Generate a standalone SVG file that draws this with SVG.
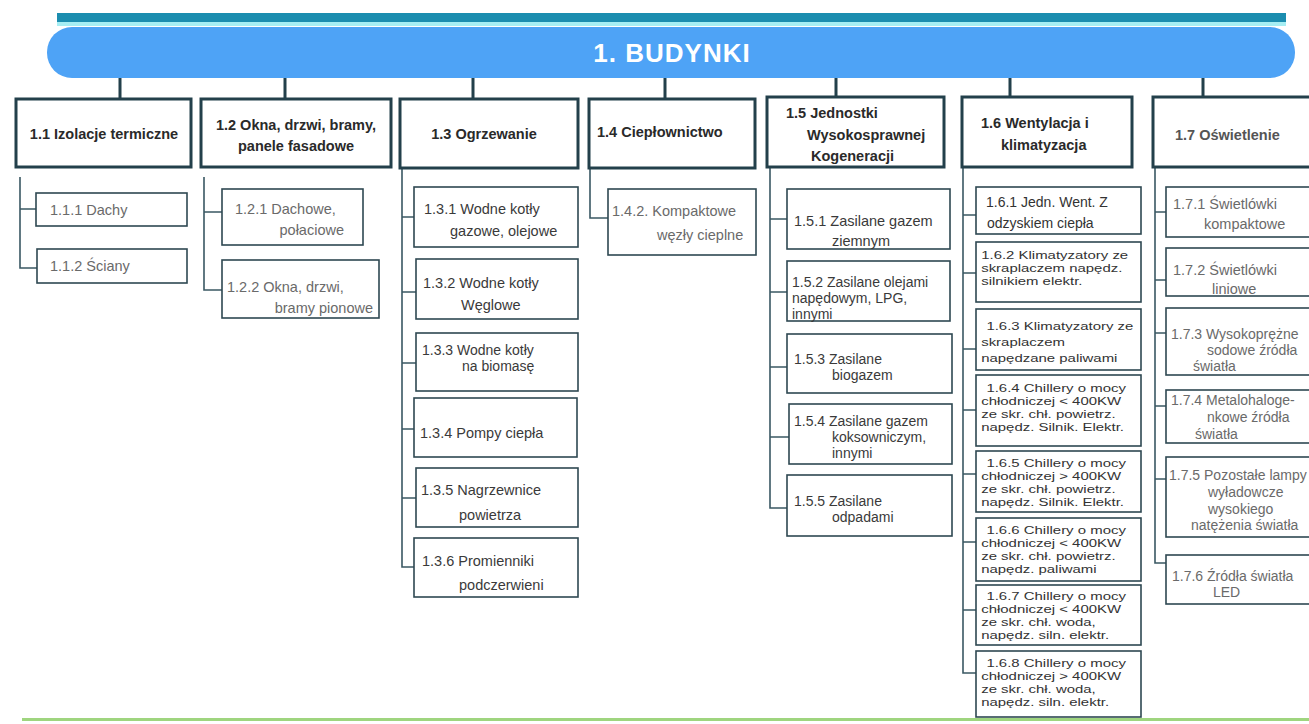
<svg xmlns="http://www.w3.org/2000/svg" width="1309" height="724" viewBox="0 0 1309 724">
<style>
.bg{fill:#ffffff}
.b1{fill:#ffffff;stroke:#23404b;stroke-width:3}
.b2{fill:#ffffff;stroke:#2e4852;stroke-width:1.6}
.c1{stroke:#23404b;stroke-width:3;fill:none}
.c2{stroke:#3a5863;stroke-width:1.6;fill:none}
text{font-family:"Liberation Sans",Arial,sans-serif}
.t1{font-size:14.5px;font-weight:bold;fill:#2a2a2a}
.tg{font-size:14.5px;fill:#6a6a6a}
.td{font-size:14.5px;fill:#3a3a3a}
.s{font-size:14px}
.tc{font-size:11.5px;fill:#333333}
</style>
<rect class="bg" x="0" y="0" width="1309" height="724"/>
<g id="top">
<rect x="57" y="13" width="1229" height="9" fill="#1b8daf"/>
<rect x="57" y="22" width="1229" height="4" fill="#a6eef3"/>
<rect x="47" y="27" width="1248" height="51" rx="25" fill="#4ea3f6"/>
<text x="672" y="62" text-anchor="middle" style="font-size:26px;font-weight:bold;letter-spacing:1px;fill:#ffffff">1. BUDYNKI</text>
</g>
<g id="connectors">
<path class="c1" d="M120 78V99M285 78V99M473 78V99M665 78V99M836 78V97M1010 78V97M1203 78V97"/>
<path class="c2" d="M20 177V268H37M20 209H36"/>
<path class="c2" d="M204 177V290H222M204 212H222"/>
<path class="c2" d="M402 168V567H414M402 217H414M402 292H416M402 363H416M402 429H414M402 498H416"/>
<path class="c2" d="M590 168V218H608"/>
<path class="c2" d="M770 167V508H787M770 219H787M770 292H787M770 367H787M770 437H789"/>
<path class="c2" d="M963 167V673H976M963 215H976M963 273H976M963 349H976M963 410H976M963 474H976M963 542H976M963 610H976"/>
<path class="c2" d="M1155 167V563H1166M1155 212H1166M1155 280H1166M1155 333H1166M1155 406H1166M1155 479H1166"/>
</g>
<g id="n1-1">
<rect class="b1" x="16" y="99" width="175" height="68"/>
<text class="t1" x="104" y="139" text-anchor="middle">1.1 Izolacje termiczne</text>
</g>
<g id="n1-1-1">
<rect class="b2" x="36" y="193" width="151" height="33"/>
<text class="tg" x="50" y="215">1.1.1 Dachy</text>
</g>
<g id="n1-1-2">
<rect class="b2" x="37" y="249" width="150" height="34"/>
<text class="tg" x="50" y="271">1.1.2 Ściany</text>
</g>
<g id="n1-2">
<rect class="b1" x="201" y="99" width="190" height="68"/>
<text class="t1" x="296" y="130" text-anchor="middle">1.2 Okna, drzwi, bramy,</text>
<text class="t1" x="296" y="151" text-anchor="middle">panele fasadowe</text>
</g>
<g id="n1-2-1">
<rect class="b2" x="222" y="189" width="141" height="56"/>
<text class="tg" x="235" y="214">1.2.1 Dachowe,</text>
<text class="tg" x="344" y="235" text-anchor="end">połaciowe</text>
</g>
<g id="n1-2-2">
<rect class="b2" x="222" y="260" width="157" height="58"/>
<text class="tg" x="227" y="292">1.2.2 Okna, drzwi,</text>
<text class="tg" x="373" y="313" text-anchor="end">bramy pionowe</text>
</g>
<g id="n1-3">
<rect class="b1" x="400" y="99" width="178" height="69"/>
<text class="t1" x="484" y="139" text-anchor="middle">1.3 Ogrzewanie</text>
</g>
<g id="n1-3-1">
<rect class="b2" x="414" y="187" width="164" height="60"/>
<text class="td" x="424" y="214">1.3.1 Wodne kotły</text>
<text class="td" x="450" y="236">gazowe, olejowe</text>
</g>
<g id="n1-3-2">
<rect class="b2" x="416" y="259" width="162" height="60"/>
<text class="td" x="423" y="288">1.3.2 Wodne kotły</text>
<text class="td" x="461" y="310">Węglowe</text>
</g>
<g id="n1-3-3">
<rect class="b2" x="416" y="333" width="162" height="58"/>
<text class="td s" x="422" y="355">1.3.3 Wodne kotły</text>
<text class="td s" x="462" y="371">na biomasę</text>
</g>
<g id="n1-3-4">
<rect class="b2" x="414" y="398" width="163" height="59"/>
<text class="td" x="420" y="438">1.3.4 Pompy ciepła</text>
</g>
<g id="n1-3-5">
<rect class="b2" x="416" y="468" width="162" height="59"/>
<text class="td" x="421" y="495">1.3.5 Nagrzewnice</text>
<text class="td" x="459" y="520">powietrza</text>
</g>
<g id="n1-3-6">
<rect class="b2" x="414" y="538" width="164" height="59"/>
<text class="td" x="422" y="566">1.3.6 Promienniki</text>
<text class="td" x="459" y="590">podczerwieni</text>
</g>
<g id="n1-4">
<rect class="b1" x="589" y="99" width="166" height="69"/>
<text class="t1" x="597" y="137">1.4 Ciepłownictwo</text>
</g>
<g id="n1-4-2">
<rect class="b2" x="608" y="189" width="148" height="66"/>
<text class="tg" x="612" y="216">1.4.2. Kompaktowe</text>
<text class="tg" x="657" y="240">węzły cieplne</text>
</g>
<g id="n1-5">
<rect class="b1" x="767" y="97" width="177" height="70"/>
<text class="t1" x="786" y="118">1.5 Jednostki</text>
<text class="t1" x="807" y="140">Wysokosprawnej</text>
<text class="t1" x="811" y="161">Kogeneracji</text>
</g>
<g id="n1-5-1">
<rect class="b2" x="787" y="189" width="163" height="60"/>
<text class="td" x="794" y="226">1.5.1 Zasilane gazem</text>
<text class="td" x="832" y="246">ziemnym</text>
</g>
<g id="n1-5-2">
<rect class="b2" x="787" y="261" width="163" height="60"/>
<text class="td s" x="792" y="287">1.5.2 Zasilane olejami</text>
<text class="td s" x="792" y="303">napędowym, LPG,</text>
<text class="td s" x="792" y="319">innymi</text>
</g>
<g id="n1-5-3">
<rect class="b2" x="787" y="334" width="165" height="59"/>
<text class="td s" x="794" y="364">1.5.3 Zasilane</text>
<text class="td s" x="832" y="380">biogazem</text>
</g>
<g id="n1-5-4">
<rect class="b2" x="789" y="404" width="163" height="60"/>
<text class="td s" x="794" y="426">1.5.4 Zasilane gazem</text>
<text class="td s" x="832" y="442">koksowniczym,</text>
<text class="td s" x="832" y="458">innymi</text>
</g>
<g id="n1-5-5">
<rect class="b2" x="787" y="475" width="165" height="61"/>
<text class="td s" x="794" y="506">1.5.5 Zasilane</text>
<text class="td s" x="832" y="522">odpadami</text>
</g>
<g id="n1-6">
<rect class="b1" x="962" y="97" width="170" height="70"/>
<text class="t1" x="981" y="128">1.6 Wentylacja i</text>
<text class="t1" x="1001" y="150">klimatyzacja</text>
</g>
<g id="n1-6-1">
<rect class="b2" x="976" y="187" width="165" height="47"/>
<text class="td s" x="986" y="207" style="fill:#333333">1.6.1 Jedn. Went. Z</text>
<text class="td s" x="987" y="228" style="fill:#333333">odzyskiem ciepła</text>
</g>
<g id="n1-6-2">
<rect class="b2" x="976" y="242" width="165" height="60"/>
<g transform="translate(976 0) scale(1.3 1) translate(-976 0)">
<text class="tc" x="980" y="259">1.6.2 Klimatyzatory ze</text>
<text class="tc" x="980" y="272">skraplaczem napędz.</text>
<text class="tc" x="980" y="285">silnikiem elektr.</text>
</g>
</g>
<g id="n1-6-3">
<rect class="b2" x="976" y="309" width="165" height="61"/>
<g transform="translate(976 0) scale(1.3 1) translate(-976 0)">
<text class="tc" x="984" y="330">1.6.3 Klimatyzatory ze</text>
<text class="tc" x="980" y="346">skraplaczem</text>
<text class="tc" x="980" y="362">napędzane paliwami</text>
</g>
</g>
<g id="n1-6-4">
<rect class="b2" x="976" y="375" width="165" height="71"/>
<g transform="translate(976 0) scale(1.3 1) translate(-976 0)">
<text class="tc" x="984" y="392">1.6.4 Chillery o mocy</text>
<text class="tc" x="980" y="405">chłodniczej &lt; 400KW</text>
<text class="tc" x="980" y="418">ze skr. chł. powietrz.</text>
<text class="tc" x="980" y="431">napędz. Silnik. Elektr.</text>
</g>
</g>
<g id="n1-6-5">
<rect class="b2" x="976" y="451" width="165" height="61"/>
<g transform="translate(976 0) scale(1.3 1) translate(-976 0)">
<text class="tc" x="984" y="467">1.6.5 Chillery o mocy</text>
<text class="tc" x="980" y="480">chłodniczej &gt; 400KW</text>
<text class="tc" x="980" y="493">ze skr. chł. powietrz.</text>
<text class="tc" x="980" y="506">napędz. Silnik. Elektr.</text>
</g>
</g>
<g id="n1-6-6">
<rect class="b2" x="976" y="518" width="165" height="63"/>
<g transform="translate(976 0) scale(1.3 1) translate(-976 0)">
<text class="tc" x="984" y="534">1.6.6 Chillery o mocy</text>
<text class="tc" x="980" y="547">chłodniczej &lt; 400KW</text>
<text class="tc" x="980" y="560">ze skr. chł. powietrz.</text>
<text class="tc" x="980" y="573">napędz. paliwami</text>
</g>
</g>
<g id="n1-6-7">
<rect class="b2" x="976" y="585" width="165" height="60"/>
<g transform="translate(976 0) scale(1.3 1) translate(-976 0)">
<text class="tc" x="984" y="600">1.6.7 Chillery o mocy</text>
<text class="tc" x="980" y="613">chłodniczej &lt; 400KW</text>
<text class="tc" x="980" y="626">ze skr. chł. woda,</text>
<text class="tc" x="980" y="639">napędz. siln. elektr.</text>
</g>
</g>
<g id="n1-6-8">
<rect class="b2" x="976" y="651" width="165" height="66"/>
<g transform="translate(976 0) scale(1.3 1) translate(-976 0)">
<text class="tc" x="984" y="667">1.6.8 Chillery o mocy</text>
<text class="tc" x="980" y="680">chłodniczej &gt; 400KW</text>
<text class="tc" x="980" y="693">ze skr. chł. woda,</text>
<text class="tc" x="980" y="706">napędz. siln. elektr.</text>
</g>
</g>
<g id="n1-7">
<rect class="b1" x="1153" y="97" width="165" height="70"/>
<text class="t1" x="1175" y="140" style="fill:#555555">1.7 Oświetlenie</text>
</g>
<g id="n1-7-1">
<rect class="b2" x="1166" y="187" width="150" height="50"/>
<text class="tg" x="1173" y="209">1.7.1 Świetlówki</text>
<text class="tg" x="1204" y="229">kompaktowe</text>
</g>
<g id="n1-7-2">
<rect class="b2" x="1166" y="248" width="150" height="48"/>
<text class="tg" x="1173" y="275">1.7.2 Świetlówki</text>
<text class="tg" x="1212" y="294">liniowe</text>
</g>
<g id="n1-7-3">
<rect class="b2" x="1166" y="308" width="150" height="67"/>
<text class="tg s" x="1171" y="339">1.7.3 Wysokoprężne</text>
<text class="tg s" x="1207" y="355">sodowe źródła</text>
<text class="tg s" x="1193" y="371">światła</text>
</g>
<g id="n1-7-4">
<rect class="b2" x="1166" y="390" width="150" height="53"/>
<text class="tg s" x="1171" y="405">1.7.4 Metalohaloge-</text>
<text class="tg s" x="1207" y="422">nkowe źródła</text>
<text class="tg s" x="1195" y="439">światła</text>
</g>
<g id="n1-7-5">
<rect class="b2" x="1166" y="457" width="150" height="80"/>
<text class="tg s" x="1169" y="480">1.7.5 Pozostałe lampy</text>
<text class="tg s" x="1208" y="497">wyładowcze</text>
<text class="tg s" x="1208" y="514">wysokiego</text>
<text class="tg s" x="1191" y="530">natężenia światła</text>
</g>
<g id="n1-7-6">
<rect class="b2" x="1166" y="555" width="150" height="49"/>
<text class="tg s" x="1172" y="581">1.7.6 Źródła światła</text>
<text class="tg s" x="1213" y="597">LED</text>
</g>
<g id="bottom">
<rect x="22" y="718" width="1287" height="3" fill="#9fd57f"/>
</g>
</svg>
